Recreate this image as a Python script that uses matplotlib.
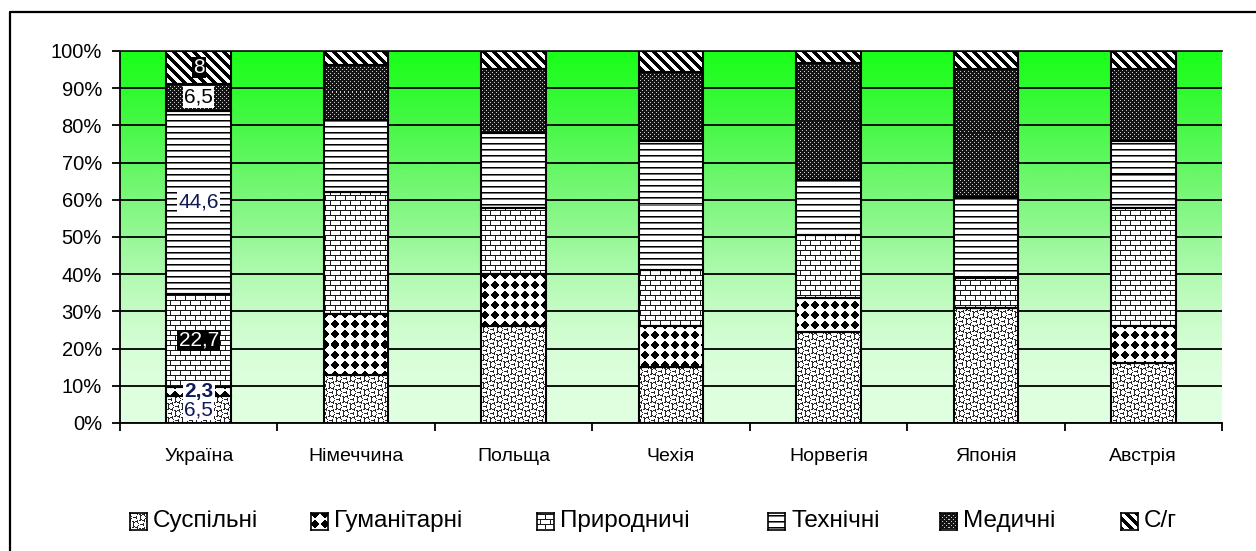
import numpy as np
import matplotlib
matplotlib.use('Agg')
import matplotlib.pyplot as plt
from matplotlib.lines import Line2D

plt.rcParams['font.family'] = ['Liberation Sans', 'DejaVu Sans']

# ---------------- data ----------------
countries = ['Україна', 'Німеччина', 'Польща', 'Чехія', 'Норвегія', 'Японія', 'Австрія']
series_names = ['Суспільні', 'Гуманітарні', 'Природничі', 'Технічні', 'Медичні', 'С/г']
suspilni    = [6.5, 12.9, 26.1, 15.1, 24.3, 31.0, 16.2]
humanitarni = [2.3, 16.4, 14.1, 11.0,  9.2,  0.0,  9.9]
pryrodnychi = [22.7, 32.7, 17.8, 15.0, 16.8, 8.1, 31.8]
tekhnichni  = [44.6, 19.5, 20.1, 34.7, 14.8, 21.7, 17.9]
medychni    = [6.5, 14.7, 17.2, 18.5, 31.4, 34.3, 19.3]
silske      = [8.0, 3.8, 4.9, 5.7, 3.1, 4.9, 4.9]
ukraine_labels = ['6,5', '2,3', '22,7', '44,6', '6,5', '8']
yticks = [0, 0.1, 0.2, 0.3, 0.4, 0.5, 0.6, 0.7, 0.8, 0.9, 1.0]
yticklabels = ['0%', '10%', '20%', '30%', '40%', '50%', '60%', '70%', '80%', '90%', '100%']

series = [suspilni, humanitarni, pryrodnychi, tekhnichni, medychni, silske]
kinds = ['wave', 'diamond', 'brick', 'hlines', 'dots', 'stripes']

# ---------------- textures ----------------
def texture(kind, X, Y):
    if kind == 'stripes':
        v = np.where(((X - Y) % 10) < 5, 0.0, 1.0)
    elif kind == 'hlines':
        r = Y % 6
        v = np.where(r == 0, 0.0, np.where(r == 1, 0.45, 1.0))
    elif kind == 'dots':
        m = ((X % 4 == 0) & (Y % 4 == 0)) | ((X % 4 == 2) & (Y % 4 == 2))
        v = np.where(m, 0.8, 0.08)
    elif kind == 'brick':
        ry = Y % 10
        h = (Y % 5) == 0
        vert = np.where(ry < 5, (X % 10) == 0, (X % 10) == 5)
        v = np.where(h | vert, 0.1, 1.0)
    elif kind == 'diamond':
        dx = np.abs((X % 10) - 4.5)
        dy = np.abs((Y % 10) - 4.5)
        m = (dx + dy <= 4.6) & (dx * dx + dy * dy <= 13)
        v = np.where(m, 0.0, 1.0)
    else:  # wave
        a = (X + Y + 2.0 * np.sin(2 * np.pi * (X - Y) / 14.0)) % 7
        b = (X - Y + 2.0 * np.sin(2 * np.pi * (X + Y) / 14.0)) % 7
        m = (a < 1.1) | (b < 1.1)
        v = np.where(m, 0.15, 1.0)
    return np.dstack([v, v, v])

# ---------------- figure ----------------
W, H = 1256, 551
fig = plt.figure(figsize=(W / 100, H / 100), dpi=100)
fig.patch.set_facecolor('white')
ax = fig.add_axes([120 / W, (H - 423) / H, (1222 - 120) / W, (423 - 51) / H])
ax.set_xlim(-0.5, len(countries) - 0.5)
ax.set_ylim(0, 1)
ax.set_autoscale_on(False)

# background gradient
stops_y = [0.0, 0.1, 0.2, 0.3, 0.4, 0.5, 0.6, 0.7, 0.8, 0.9, 1.0]
stops_c = [(225, 255, 225), (222, 255, 222), (214, 254, 214), (198, 252, 198), (176, 250, 176),
           (150, 248, 150), (124, 247, 124), (98, 247, 98), (72, 248, 72), (46, 251, 46), (26, 255, 26)]
yy = np.linspace(0, 1, 400)
grad = np.stack([np.interp(yy, stops_y, [c[k] / 255 for c in stops_c]) for k in range(3)], axis=-1)
ax.imshow(grad[:, None, :], extent=(-0.5, len(countries) - 0.5, 0, 1), origin='lower',
          aspect='auto', interpolation='bilinear', zorder=0)

ax.set_axisbelow(True)
ax.yaxis.grid(True, color='black', linewidth=1.3)

# stacked bars (normalised to 100%)
x = np.arange(len(countries))
totals = np.sum(np.array(series), axis=0)
bottom = np.zeros(len(countries))
bw = 0.41
segments = []
for vals, kind in zip(series, kinds):
    frac = np.array(vals) / totals
    bars = ax.bar(x, frac, bottom=bottom, width=bw, facecolor='none', edgecolor='black',
                  linewidth=1.5, zorder=3)
    for p in bars:
        segments.append((p, kind))
    bottom = bottom + frac

inv = ax.transData.inverted()
for p, kind in segments:
    if p.get_height() <= 0:
        continue
    x0, y0 = p.get_x(), p.get_y()
    x1, y1 = x0 + p.get_width(), y0 + p.get_height()
    d = ax.transData.transform([(x0, y0), (x1, y1)])
    px0, px1 = int(round(d[0, 0])), int(round(d[1, 0]))
    py0, py1 = int(round(d[0, 1])), int(round(d[1, 1]))
    if px1 - px0 < 1 or py1 - py0 < 1:
        continue
    gx = np.arange(px0, px1)
    gy = np.arange(H - py1, H - py0)
    X, Y = np.meshgrid(gx, gy)
    img = texture(kind, X, Y)
    e = inv.transform([(px0, py0), (px1, py1)])
    ax.imshow(img, extent=(e[0, 0], e[1, 0], e[0, 1], e[1, 1]), origin='upper',
              aspect='auto', interpolation='nearest', zorder=2)

# data labels on Ukraine bar
ukr = np.array([s[0] for s in series]) / totals[0]
cum = np.cumsum(ukr)
centers = cum - ukr / 2
lab_style = [
    dict(color='#0d1a55', bg='white', weight='normal'),
    dict(color='#0d1a55', bg='white', weight='bold'),
    dict(color='white', bg='black', weight='normal'),
    dict(color='#0d1a55', bg='white', weight='normal'),
    dict(color='black', bg='white', weight='normal'),
    dict(color='white', bg='black', weight='normal'),
]
for c, txt, st in zip(centers, ukraine_labels, lab_style):
    ax.text(0, c, txt, ha='center', va='center', fontsize=15, color=st['color'],
            fontweight=st['weight'], zorder=5,
            bbox=dict(boxstyle='square,pad=0.06', facecolor=st['bg'], edgecolor='none'))

# axes styling
ax.spines['right'].set_visible(False)
ax.spines['top'].set_color('#202020')
for s in ['top', 'left', 'bottom']:
    ax.spines[s].set_linewidth(1.3)
ax.set_yticks(yticks)
ax.set_yticklabels(yticklabels, fontsize=14.5)
ax.tick_params(axis='y', direction='out', length=6, width=1.3, pad=7)
ax.set_xticks(x)
ax.set_xticklabels(countries, fontsize=14)
ax.tick_params(axis='x', which='major', length=0, pad=18)
ax.set_xticks(np.arange(-0.5, len(countries)), minor=True)
ax.tick_params(axis='x', which='minor', direction='out', length=6, width=1.3)

# legend (manual)
leg_x = [130, 311, 537, 768, 940, 1121]
leg_yc = 521
sq = 17
for lx, name, kind in zip(leg_x, series_names, kinds):
    lax = fig.add_axes([lx / W, (H - leg_yc - sq / 2) / H, sq / W, sq / H])
    gx = np.arange(lx, lx + sq)
    gy = np.arange(leg_yc - sq // 2, leg_yc - sq // 2 + sq)
    X, Y = np.meshgrid(gx, gy)
    lax.imshow(texture(kind, X, Y), interpolation='nearest', aspect='auto')
    lax.set_xticks([])
    lax.set_yticks([])
    for sp in lax.spines.values():
        sp.set_linewidth(1.2)
    fig.text((lx + sq + 6) / W, (H - leg_yc) / H, name, fontsize=17.5, va='center', ha='left')

# outer frame
fig.add_artist(Line2D([10 / W, 10 / W, 1.01], [-0.01, 1 - 12 / H, 1 - 12 / H],
                      transform=fig.transFigure, color='black', linewidth=1.6))

fig.savefig('out.png', dpi=100)
